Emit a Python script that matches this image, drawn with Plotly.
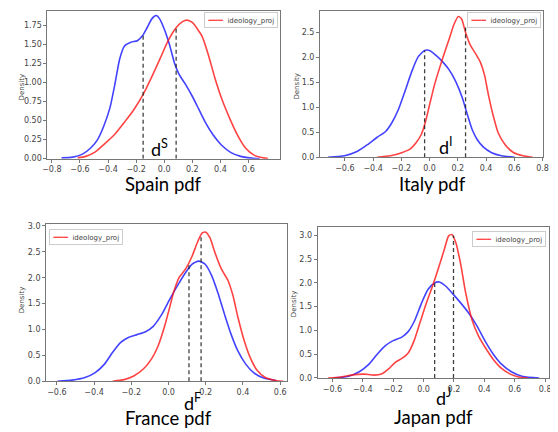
import plotly.graph_objects as go

# ---------------- data ----------------
countries = ["Spain", "Italy", "France", "Japan"]
sup_letters = ["S", "I", "F", "J"]
series_name = "ideology_proj"

spain_blue_x = [-0.731, -0.651, -0.582, -0.524, -0.478, -0.432, -0.386, -0.352, -0.317, -0.283, -0.237, -0.191,
                -0.156, -0.122, -0.087, -0.057, -0.030, 0.005, 0.039, 0.074, 0.108, 0.154, 0.200, 0.246, 0.292,
                0.349, 0.407, 0.476, 0.545, 0.637, 0.68]
spain_blue_y = [0.01, 0.02, 0.06, 0.14, 0.24, 0.42, 0.67, 0.97, 1.31, 1.48, 1.53, 1.55, 1.61, 1.72, 1.84, 1.88,
                1.83, 1.68, 1.49, 1.25, 1.10, 0.97, 0.82, 0.65, 0.48, 0.31, 0.18, 0.08, 0.03, 0.004, 0.0]
spain_red_x = [-0.616, -0.559, -0.490, -0.421, -0.352, -0.283, -0.214, -0.145, -0.087, -0.030, 0.028, 0.085,
               0.131, 0.160, 0.200, 0.269, 0.315, 0.361, 0.407, 0.464, 0.522, 0.579, 0.637, 0.706, 0.74]
spain_red_y = [0.01, 0.03, 0.09, 0.20, 0.32, 0.48, 0.65, 0.86, 1.08, 1.31, 1.55, 1.72, 1.80, 1.82, 1.79, 1.61,
               1.36, 1.06, 0.80, 0.54, 0.31, 0.14, 0.05, 0.01, 0.0]

italy_blue_x = [-0.719, -0.603, -0.51, -0.44, -0.371, -0.313, -0.267, -0.220, -0.174, -0.127, -0.081, -0.035,
                0.0, 0.046, 0.093, 0.139, 0.185, 0.232, 0.267, 0.301, 0.336, 0.382, 0.44, 0.51, 0.603]
italy_blue_y = [0.0, 0.03, 0.12, 0.25, 0.40, 0.51, 0.69, 0.96, 1.32, 1.71, 2.01, 2.14, 2.14, 2.04, 1.91, 1.75,
                1.52, 1.19, 0.86, 0.56, 0.36, 0.20, 0.09, 0.03, 0.0]
italy_red_x = [-0.371, -0.278, -0.197, -0.139, -0.093, -0.058, -0.028, 0.0, 0.035, 0.070, 0.104, 0.139, 0.174,
               0.204, 0.227, 0.255, 0.29, 0.325, 0.359, 0.389, 0.417, 0.452, 0.486, 0.533, 0.591, 0.661, 0.73]
italy_red_y = [0.0, 0.03, 0.09, 0.16, 0.30, 0.46, 0.72, 1.05, 1.45, 1.78, 2.08, 2.37, 2.67, 2.82, 2.77, 2.50,
               2.24, 2.08, 1.91, 1.65, 1.25, 0.82, 0.49, 0.26, 0.10, 0.03, 0.0]

france_blue_x = [-0.597, -0.518, -0.449, -0.396, -0.344, -0.30, -0.257, -0.213, -0.169, -0.126, -0.082, -0.038,
                 0.005, 0.049, 0.092, 0.127, 0.162, 0.197, 0.232, 0.267, 0.302, 0.337, 0.372, 0.415, 0.459,
                 0.511, 0.581]
france_blue_y = [0.0, 0.02, 0.07, 0.16, 0.33, 0.56, 0.75, 0.85, 0.90, 0.95, 1.06, 1.28, 1.57, 1.85, 2.10, 2.26,
                 2.32, 2.26, 2.04, 1.69, 1.28, 0.90, 0.59, 0.33, 0.16, 0.06, 0.01]
france_red_x = [-0.30, -0.239, -0.187, -0.134, -0.091, -0.056, -0.021, 0.005, 0.031, 0.058, 0.092, 0.127, 0.154,
                0.18, 0.20, 0.223, 0.25, 0.284, 0.319, 0.346, 0.372, 0.407, 0.442, 0.476, 0.52, 0.581, 0.616]
france_red_y = [0.0, 0.03, 0.10, 0.24, 0.43, 0.68, 1.06, 1.41, 1.76, 2.01, 2.17, 2.42, 2.67, 2.86, 2.88, 2.77,
                2.48, 2.17, 1.95, 1.66, 1.25, 0.78, 0.43, 0.21, 0.07, 0.01, 0.0]

japan_blue_x = [-0.595, -0.499, -0.423, -0.359, -0.305, -0.251, -0.197, -0.143, -0.10, -0.057, -0.014, 0.029,
                0.072, 0.104, 0.147, 0.19, 0.244, 0.298, 0.352, 0.406, 0.459, 0.513, 0.578, 0.653, 0.761]
japan_blue_y = [0.0, 0.03, 0.13, 0.29, 0.50, 0.68, 0.79, 0.86, 0.98, 1.22, 1.57, 1.86, 2.00, 2.02, 1.93, 1.78,
                1.58, 1.36, 1.09, 0.77, 0.50, 0.29, 0.13, 0.03, 0.0]
japan_red_x = [-0.628, -0.542, -0.456, -0.391, -0.326, -0.273, -0.23, -0.186, -0.143, -0.10, -0.064, -0.025,
               0.018, 0.061, 0.104, 0.137, 0.165, 0.186, 0.212, 0.244, 0.276, 0.319, 0.362, 0.406, 0.459, 0.513,
               0.578, 0.642, 0.686]
japan_red_y = [0.0, 0.02, 0.07, 0.08, 0.06, 0.09, 0.19, 0.33, 0.41, 0.53, 0.77, 1.15, 1.57, 1.95, 2.37, 2.71,
               2.99, 3.02, 2.85, 2.40, 1.81, 1.22, 0.88, 0.64, 0.39, 0.20, 0.07, 0.01, 0.0]

# dashed marker lines: x location and height of each vertical dashed line
blue_mark_x = [-0.15, -0.035, 0.11, 0.073]
blue_mark_h = [1.64, 2.14, 2.24, 1.99]
red_mark_x = [0.085, 0.255, 0.175, 0.197]
red_mark_h = [1.73, 2.60, 2.84, 3.00]

x_ticks = [
    [-0.8, -0.6, -0.4, -0.2, 0.0, 0.2, 0.4, 0.6],
    [-0.6, -0.4, -0.2, 0.0, 0.2, 0.4, 0.6, 0.8],
    [-0.6, -0.4, -0.2, 0.0, 0.2, 0.4, 0.6],
    [-0.6, -0.4, -0.2, 0.0, 0.2, 0.4, 0.6, 0.8],
]
y_ticks = [
    [0.0, 0.25, 0.5, 0.75, 1.0, 1.25, 1.5, 1.75],
    [0.0, 0.5, 1.0, 1.5, 2.0, 2.5],
    [0.0, 0.5, 1.0, 1.5, 2.0, 2.5, 3.0],
    [0.0, 0.5, 1.0, 1.5, 2.0, 2.5, 3.0],
]
y_fmt = [".2f", ".1f", ".1f", ".1f"]

blue_x = [spain_blue_x, italy_blue_x, france_blue_x, japan_blue_x]
blue_y = [spain_blue_y, italy_blue_y, france_blue_y, japan_blue_y]
red_x = [spain_red_x, italy_red_x, france_red_x, japan_red_x]
red_y = [spain_red_y, italy_red_y, france_red_y, japan_red_y]

# ---------------- layout geometry ----------------
# page body has an 8px margin, so the figure is 550x424 placed at (8, 8)
OFF = 8
W, H = 558 - OFF, 432 - OFF


def px(xp):
    return min(max((xp - OFF) / W, 0.0), 1.0)


def py(yp):
    return min(max(1 - (yp - OFF) / H, 0.0), 1.0)


frames = [  # left, right, top, bottom (pixels in the 558x432 window)
    (43, 280, 8, 158.5),
    (320.7, 548.3, 8, 157),
    (41.7, 287.3, 225.5, 385.3),
    (318.3, 554, 228.5, 382),
]
x_ranges = [(-0.832, 0.825), (-0.776, 0.807), (-0.658, 0.638), (-0.697, 0.826)]
y_ranges = [(0, 1.94), (0, 2.93), (0, 3.03), (0, 3.17)]
title_pos = [(161.7, 184), (435.7, 184), (166.7, 423), (436.3, 422)]
d_pos = [(157, 148), (449, 146), (191, 406.5), (446.7, 401.5)]
density_pos = [(17, 85), (296.3, 85), (17.3, 302.7), (295, 306)]
legend_pos = [  # x, y, xanchor  (box corner)
    (278, 9, "right"), (546, 9.5, "right"), (45, 230, "left"), (551, 232, "right"),
]

BLUE = "rgba(20,20,255,0.8)"
RED = "rgba(255,20,20,0.8)"
AXC = "#777777"
TXT = "#444444"
BIG_FONT = "Lato"

fig = go.Figure()
layout = dict(
    width=W, height=H, margin=dict(l=0, r=0, t=0, b=0),
    paper_bgcolor="white", plot_bgcolor="white", showlegend=False,
    annotations=[],
)

for i in range(4):
    sfx = "" if i == 0 else str(i + 1)
    xa, ya = "x" + sfx, "y" + sfx
    fig.add_trace(go.Scatter(x=blue_x[i], y=blue_y[i], mode="lines", xaxis=xa, yaxis=ya,
                             line=dict(color=BLUE, width=1.6, shape="spline", smoothing=0.6),
                             showlegend=False, hoverinfo="skip"))
    fig.add_trace(go.Scatter(x=red_x[i], y=red_y[i], mode="lines", xaxis=xa, yaxis=ya,
                             name=series_name,
                             line=dict(color=RED, width=1.6, shape="spline", smoothing=0.6),
                             showlegend=False))
    for mx, mh in ((blue_mark_x[i], blue_mark_h[i]), (red_mark_x[i], red_mark_h[i])):
        fig.add_trace(go.Scatter(x=[mx, mx], y=[0, mh], mode="lines", xaxis=xa, yaxis=ya,
                                 line=dict(color="rgba(30,30,30,0.85)", width=1.3, dash="4px,3px"),
                                 showlegend=False, hoverinfo="skip"))

    l, r, t, b = frames[i]
    layout["xaxis" + sfx] = dict(
        domain=[px(l), px(r)], anchor=ya, range=list(x_ranges[i]),
        tickmode="array", tickvals=x_ticks[i], tickformat=".1f",
        showgrid=False, zeroline=False, showline=True, mirror=True,
        linecolor=AXC, linewidth=1, ticks="outside", ticklen=3, tickcolor=AXC,
        tickfont=dict(family="DejaVu Sans", size=8, color=TXT),
    )
    layout["yaxis" + sfx] = dict(
        domain=[py(b), py(t)], anchor=xa, range=list(y_ranges[i]),
        tickmode="array", tickvals=y_ticks[i], tickformat=y_fmt[i],
        showgrid=False, zeroline=False, showline=True, mirror=True,
        linecolor=AXC, linewidth=1, ticks="outside", ticklen=3, tickcolor=AXC,
        tickfont=dict(family="DejaVu Sans", size=8, color=TXT),
    )
    # compact matplotlib-style legend box
    lx, ly, lxa = legend_pos[i]
    layout["annotations"].append(dict(
        text=f"<span style='color:{RED};font-size:8px'>━━━</span>  {series_name}",
        x=px(lx), y=py(ly), xref="paper", yref="paper", xanchor=lxa, yanchor="top",
        showarrow=False, bgcolor="rgba(255,255,255,0.85)", bordercolor="#cccccc",
        borderwidth=1, borderpad=2.5,
        font=dict(family="DejaVu Sans", size=7, color=TXT)))
    tx, ty = title_pos[i]
    layout["annotations"].append(dict(
        text=f"{countries[i]} pdf", x=px(tx), y=py(ty), xref="paper", yref="paper",
        showarrow=False, xanchor="center", yanchor="middle",
        font=dict(family=BIG_FONT, size=18.5, color="black")))
    dx, dy = d_pos[i]
    layout["annotations"].append(dict(
        text=f"d<sup>{sup_letters[i]}</sup>", x=px(dx), y=py(dy), xref="paper", yref="paper",
        showarrow=False, xanchor="center", yanchor="middle",
        font=dict(family=BIG_FONT, size=18, color="black")))
    ddx, ddy = density_pos[i]
    layout["annotations"].append(dict(
        text="Density", x=px(ddx), y=py(ddy), xref="paper", yref="paper", textangle=-90,
        showarrow=False, xanchor="center", yanchor="middle",
        font=dict(family="DejaVu Sans", size=7, color=TXT)))

fig.update_layout(**layout)
fig.write_html("out.html")
